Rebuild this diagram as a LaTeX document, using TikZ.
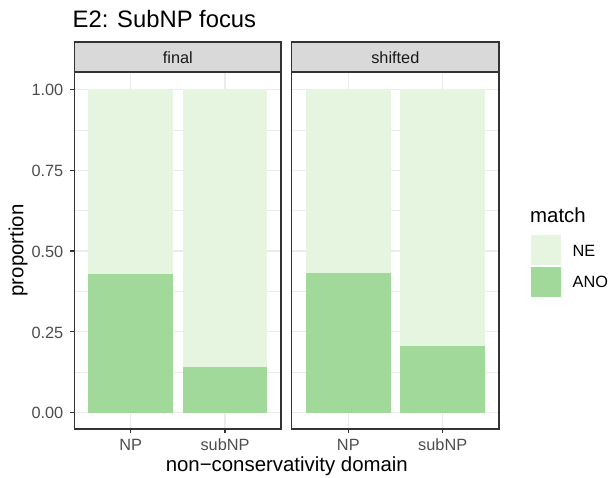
\documentclass[tikz,border=0pt]{standalone}
\usepackage{fontspec}
\setmainfont{Liberation Sans}
\definecolor{neC}{HTML}{E5F5E0}
\definecolor{anoC}{HTML}{A1D99B}
\definecolor{gridC}{HTML}{EBEBEB}
\definecolor{stripC}{HTML}{D9D9D9}
\definecolor{frameC}{HTML}{333333}
\definecolor{tickC}{HTML}{4D4D4D}
\begin{document}
\begin{tikzpicture}[x=1pt,y=-1pt,
  majorgrid/.style={draw=gridC,line width=1.1pt},
  minorgrid/.style={draw=gridC,line width=0.55pt},
  nebar/.style={fill=neC},
  anobar/.style={fill=anoC},
  frame/.style={draw=frameC,line width=1.1pt},
  strip/.style={fill=stripC,draw=frameC,line width=1.1pt},
  striptext/.style={font=\fontsize{16.3}{18}\selectfont,text=black!90},
  ticklab/.style={font=\fontsize{16.3}{18}\selectfont,text=tickC},
  axtitle/.style={font=\fontsize{20.4}{23}\selectfont,text=black},
  tickmark/.style={draw=frameC,line width=1.1pt}]
\useasboundingbox (0,0) rectangle (612,478);
% panels
\foreach \L/\R/\nA/\nB/\hA/\hB in {74.7/281/130.7/225/274/367, 291.7/499/348.3/442.7/273/346}{
  % minor grid
  \foreach \yy in {372.3,291.5,210.6,129.8}{\draw[minorgrid] (\L,\yy) -- (\R,\yy);}
  % major grid
  \foreach \yy in {412.7,331.9,251.0,170.2,89.3}{\draw[majorgrid] (\L,\yy) -- (\R,\yy);}
  \draw[majorgrid] (\nA,72) -- (\nA,429);
  \draw[majorgrid] (\nB,72) -- (\nB,429);
  % bars
  \fill[nebar] (\nA-42.4,89.3) rectangle (\nA+42.4,\hA);
  \fill[anobar] (\nA-42.4,\hA) rectangle (\nA+42.4,412.7);
  \fill[nebar] (\nB-42.4,89.3) rectangle (\nB+42.4,\hB);
  \fill[anobar] (\nB-42.4,\hB) rectangle (\nB+42.4,412.7);
  % frame & strip
  \draw[frame] (\L,72) rectangle (\R,429);
  \draw[strip] (\L,42) rectangle (\R,72);
  % x ticks
  \draw[tickmark] (\nA,429) -- (\nA,433.4);
  \draw[tickmark] (\nB,429) -- (\nB,433.4);
}
\node[striptext] (sf) at (177.85,57.5) {final};
\node[striptext] (ss) at (395.35,57.5) {shifted};
% x tick labels
\node[ticklab] (x1) at (130.7,445) {NP};
\node[ticklab] (x2) at (225,445) {subNP};
\node[ticklab] (x3) at (348.3,445) {NP};
\node[ticklab] (x4) at (442.7,445) {subNP};
% y ticks
\foreach \yy/\lab in {412.7/0.00,331.9/0.25,251.0/0.50,170.2/0.75,89.3/1.00}{
  \draw[tickmark] (70.3,\yy) -- (74.7,\yy);
  \node[ticklab,anchor=east,inner sep=0pt] at (63.5,\yy+0.5) {\lab};
}
% titles
\node[axtitle] (xt) at (286.8,466) {non−conservativity domain};
\node[axtitle,rotate=90] (yt) at (18,250.5) {proportion};
\node[font=\fontsize{23.8}{28}\selectfont,anchor=base west,inner sep=0pt] (tt) at (72.5,27.7) {E2: SubNP focus};
% legend
\node[axtitle,anchor=west,inner sep=0pt] (lt) at (530,215) {match};
\fill[nebar] (531,235) rectangle (561,265);
\fill[anobar] (531,267) rectangle (561,297);
\node[ticklab,text=black,anchor=west,inner sep=0pt] (l1) at (572.5,250.5) {NE};
\node[ticklab,text=black,anchor=west,inner sep=0pt] (l2) at (572.5,282) {ANO};
\end{tikzpicture}
\end{document}
